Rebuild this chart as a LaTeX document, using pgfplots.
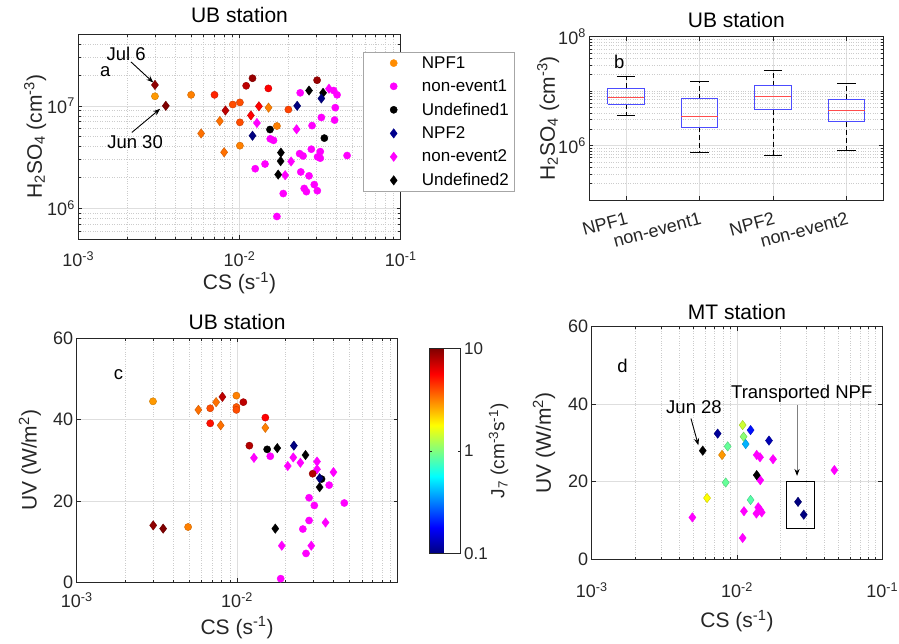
\documentclass[border=0pt]{standalone}
\usepackage{fontspec}
\setmainfont{Liberation Sans}
\usepackage{pgfplots}
\pgfplotsset{compat=1.18}
\usetikzlibrary{arrows.meta}

\definecolor{axc}{rgb}{0.15,0.15,0.15}
\definecolor{npfor}{rgb}{1,0.55,0}
\definecolor{navy}{rgb}{0,0,0.55}
\definecolor{mag}{rgb}{1,0,1}
\definecolor{boxblue}{rgb}{0.3,0.3,1}
\definecolor{medred}{rgb}{1,0.3,0.3}

\newcommand{\fTick}{\fontsize{18}{18}\selectfont}
\newcommand{\fLab}{\fontsize{21}{21}\selectfont}
\newcommand{\fLeg}{\fontsize{17}{17}\selectfont}
\newcommand{\fAnn}{\fontsize{18.5}{18.5}\selectfont}

\pgfplotsset{
  panelbase/.style={
    scale only axis,
    axis line style={axc, line width=0.6pt},
    tick style={axc, line width=0.5pt},
    major tick length=4pt, minor tick length=2.5pt,
    tick label style={font=\fTick, text=axc},
    /pgf/number format/assume math mode=true,
    xlabel style={font=\fLab, text=axc},
    ylabel style={font=\fLab, text=axc},
    title style={font=\fLab, text=black},
    major grid style={black!13, line width=0.5pt},
    minor grid style={black!20, dotted, line width=0.5pt},
    colormap/jet, point meta min=-1, point meta max=1,
    unbounded coords=jump,
  },
  csticks/.style={
    xmin=1e-3, xmax=1e-1,
    xtick={1e-3,1e-2,1e-1},
    xticklabels={10\textsuperscript{-3},10\textsuperscript{-2},10\textsuperscript{-1}},
    minor xtick={0.002,0.003,0.004,0.005,0.006,0.007,0.008,0.009,0.02,0.03,0.04,0.05,0.06,0.07,0.08,0.09},
    xmajorgrids, xminorgrids,
    xlabel={CS (s\textsuperscript{-1})},
  },
  mcirc/.style={only marks, mark=*, mark size=3.6pt},
  mdiam/.style={only marks, mark=diamond*, mark size=4.7pt},
  legimg/.style={legend image code/.code={
    \path (0pt,0pt) (53pt,0pt);
    \draw[##1] plot coordinates {(27pt,0pt)};}},
}

\begin{document}
\begin{tikzpicture}

% ---------- a: H2SO4 vs CS ----------
\begin{axis}[panelbase, xmode=log, ymode=log, csticks,
  at={(78.3pt,-239pt)}, anchor=south west, width=322.4pt, height=204.7pt,
  ymin=5e5, ymax=5e7,
  ytick={1e6,1e7}, yticklabels={10\textsuperscript{6},10\textsuperscript{7}},
  minor ytick={6e5,7e5,8e5,9e5,2e6,3e6,4e6,5e6,6e6,7e6,8e6,9e6,2e7,3e7,4e7,5e7},
  ymajorgrids, yminorgrids,
  ylabel={H\textsubscript{2}SO\textsubscript{4} (cm\textsuperscript{-3})},
  xlabel style={at={(axis description cs:0.5,-0.215)}, anchor=center},
  ylabel style={at={(axis description cs:-0.134,0.5)}, anchor=center},
  xticklabel style={yshift=-9pt},
  title={UB station},
  title style={at={(axis description cs:0.5,1)}, anchor=center, yshift=13pt},
  legend style={at={(rel axis cs:0.884,0.912)}, anchor=north west,
    draw=gray!70, fill=white, font=\fLeg, row sep=6pt},
  legend cell align=left,
]
\addlegendimage{mcirc, npfor, legimg}\addlegendentry{NPF1}
\addlegendimage{mcirc, mag, legimg}\addlegendentry{non-event1}
\addlegendimage{mcirc, black, legimg}\addlegendentry{Undefined1}
\addlegendimage{mdiam, navy, legimg}\addlegendentry{NPF2}
\addlegendimage{mdiam, mag, legimg}\addlegendentry{non-event2}
\addlegendimage{mdiam, black, legimg}\addlegendentry{Undefined2}

% non-event1
\addplot[mcirc, mag] table {
x y
0.0238 1.34e7
0.0384 1.41e7
0.0403 1.28e7
0.0393 9.6e6
0.0322 7.7e6
0.0389 7.26e6
0.0282 6.41e6
0.01552 4.76e6
0.01626 4.6e6
0.0279 3.77e6
0.0236 3.41e6
0.0248 3.24e6
0.0317 3.57e6
0.0305 3.17e6
0.0317 3.08e6
0.0465 3.27e6
0.0144 2.7e6
0.01252 2.43e6
0.0240 2.26e6
0.0270 2.07e6
0.0252 1.56e6
0.0260 1.45e6
0.0291 1.70e6
0.0304 1.48e6
0.01868 1.39e6
0.01707 8.3e5
};
% non-event2
\addplot[mdiam, mag] table {
x y
0.0359 1.47e7
0.01283 6.8e6
0.0226 5.9e6
0.0209 2.86e6
0.0192 2.1e6
};
% undefined1
\addplot[mcirc, black] table {
x y
0.01546 5.87e6
0.0336 4.84e6
};
% undefined2
\addplot[mdiam, black] table {
x y
0.0270 1.41e7
0.0330 1.34e7
0.01807 3.49e6
0.0180 2.88e6
0.01738 2.13e6
};
% NPF1, colour = log10 J7
\addplot[scatter, mcirc, scatter src=explicit] table[meta=j] {
x y j
0.00299 1.24e7 0.45
0.00501 1.28e7 0.5
0.0070 1.28e7 0.68
0.00908 1.03e7 0.6
0.01006 1.08e7 0.6
0.01006 6.9e6 0.6
0.01006 4.08e6 0.5
0.0110 1.57e7 0.88
0.01204 1.86e7 0.95
0.0151 1.48e7 0.75
0.0201 9.2e6 0.62
0.01707 6.35e6 0.5
0.0303 1.78e7 0.95
};
% NPF2, colour = log10 J7
\addplot[scatter, mdiam, scatter src=explicit] table[meta=j] {
x y j
0.00299 1.6e7 0.97
0.00349 1.0e7 1.0
0.00578 5.37e6 0.53
0.00755 7.1e6 0.53
0.00818 9.0e6 0.88
0.00803 3.52e6 0.53
0.0132 9.9e6 0.75
0.01177 8.06e6 0.75
0.01514 9.6e6 0.5
0.01204 5.1e6 -1
0.0228 1.0e7 -1
0.0322 1.18e7 -1
};
\node[font=\fAnn] at (axis cs:0.00147,2.14e7) {a};
\node[font=\fAnn] at (axis cs:0.00198,3.24e7) {Jul 6};
\draw[-{Stealth[length=7pt]}, line width=0.9pt] (axis cs:0.00212,2.69e7) -- (axis cs:0.00292,1.69e7);
\node[font=\fAnn] at (axis cs:0.00225,4.46e6) {Jun 30};
\draw[-{Stealth[length=7pt]}, line width=0.9pt] (axis cs:0.00215,5.5e6) -- (axis cs:0.00322,9.35e6);
\end{axis}

% ---------- b: box plots ----------
\begin{axis}[panelbase, ymode=log,
  at={(589.3pt,-200pt)}, anchor=south west, width=294pt, height=163.3pt,
  xmin=0.5, xmax=4.5, xtick={1,2,3,4},
  xticklabels={NPF1,non-event1,NPF2,non-event2},
  xticklabel style={rotate=15, anchor=north east, yshift=-8pt},
  ymin=1e5, ymax=1e8,
  ytick={1e6,1e8}, yticklabels={10\textsuperscript{6},10\textsuperscript{8}},
  minor ytick={2e5,3e5,4e5,5e5,6e5,7e5,8e5,9e5,2e6,3e6,4e6,5e6,6e6,7e6,8e6,9e6,1e7,2e7,3e7,4e7,5e7,6e7,7e7,8e7,9e7},
  xmajorgrids, ymajorgrids, yminorgrids,
  ylabel={H\textsubscript{2}SO\textsubscript{4} (cm\textsuperscript{-3})},
  ylabel style={at={(axis description cs:-0.14,0.5)}, anchor=center},
  title={UB station},
  title style={at={(axis description cs:0.5,1)}, anchor=center, yshift=11pt},
]
% whiskers
\addplot[black, line width=0.6pt, dash pattern=on 5pt off 3pt] coordinates {
(1,1.13e7) (1,1.88e7) (nan,nan) (1,5.8e6) (1,3.6e6) (nan,nan)
(2,7.3e6) (2,1.52e7) (nan,nan) (2,2.17e6) (2,7.45e5) (nan,nan)
(3,1.26e7) (3,2.42e7) (nan,nan) (3,4.58e6) (3,6.66e5) (nan,nan)
(4,7.1e6) (4,1.37e7) (nan,nan) (4,2.72e6) (4,8.24e5)
};
% caps
\addplot[black, line width=0.6pt] coordinates {
(0.875,1.88e7) (1.125,1.88e7) (nan,nan) (0.875,3.6e6) (1.125,3.6e6) (nan,nan)
(1.875,1.52e7) (2.125,1.52e7) (nan,nan) (1.875,7.45e5) (2.125,7.45e5) (nan,nan)
(2.875,2.42e7) (3.125,2.42e7) (nan,nan) (2.875,6.66e5) (3.125,6.66e5) (nan,nan)
(3.875,1.37e7) (4.125,1.37e7) (nan,nan) (3.875,8.24e5) (4.125,8.24e5)
};
% boxes
\addplot[boxblue, line width=1pt] coordinates {
(0.75,5.8e6) (1.25,5.8e6) (1.25,1.13e7) (0.75,1.13e7) (0.75,5.8e6) (nan,nan)
(1.75,2.17e6) (2.25,2.17e6) (2.25,7.3e6) (1.75,7.3e6) (1.75,2.17e6) (nan,nan)
(2.75,4.58e6) (3.25,4.58e6) (3.25,1.26e7) (2.75,1.26e7) (2.75,4.58e6) (nan,nan)
(3.75,2.72e6) (4.25,2.72e6) (4.25,7.1e6) (3.75,7.1e6) (3.75,2.72e6)
};
% medians
\addplot[medred, line width=0.8pt] coordinates {
(0.75,7.8e6) (1.25,7.8e6) (nan,nan)
(1.75,3.37e6) (2.25,3.37e6) (nan,nan)
(2.75,8.05e6) (3.25,8.05e6) (nan,nan)
(3.75,4.52e6) (4.25,4.52e6)
};
\node[font=\fAnn] at (axis cs:0.908,3.47e7) {b};
\end{axis}

% ---------- c: UV vs CS, UB ----------
\begin{axis}[panelbase, xmode=log, csticks,
  at={(76.7pt,-582.3pt)}, anchor=south west, width=320.8pt, height=244pt,
  ymin=0, ymax=60, ytick={0,20,40,60}, ymajorgrids,
  xticklabels={10\textsuperscript{-3},10\textsuperscript{-2},{}},
  xticklabel style={yshift=-7pt},
  ylabel={UV (W/m\textsuperscript{2})},
  xlabel style={at={(axis description cs:0.5,-0.185)}, anchor=center},
  ylabel style={at={(axis description cs:-0.146,0.5)}, anchor=center},
  title={UB station},
  title style={at={(axis description cs:0.5,1)}, anchor=center, yshift=10pt},
  colorbar,
  colorbar style={
    at={(parent axis.north east)}, anchor=north west,
    xshift=23pt, yshift=-10pt,
    scale only axis, width=31.6pt, height=205pt,
    ytick={-1,0,1}, yticklabels={0.1,1,10},
    yticklabel style={font=\fontsize{17}{17}\selectfont, text=axc},
    ylabel={J\textsubscript{7} (cm\textsuperscript{-3}s\textsuperscript{-1})},
    ylabel style={font=\fontsize{19}{19}\selectfont, text=axc,
      at={(axis description cs:2.2,0.5)}, anchor=center},
    axis line style={axc, line width=0.6pt},
    major tick length=3pt,
  },
]
\addplot[mcirc, mag] table {
x y
0.0161 31.0
0.0375 23.9
0.0466 19.5
0.0281 20.8
0.0303 18.9
0.0281 15.2
0.0257 13.1
0.0269 7.1
0.0187 0.9
};
\addplot[mdiam, mag] table {
x y
0.01274 30.6
0.0224 30.7
0.0207 28.6
0.0248 29.4
0.0315 29.7
0.0315 27.8
0.0399 27.1
0.0356 14.7
0.0190 9.0
0.0290 9.0
};
\addplot[mcirc, black] table {
x y
0.0154 32.7
0.0336 25.4
};
\addplot[mdiam, black] table {
x y
0.0178 33.0
0.0267 31.3
0.0327 23.4
0.0173 13.2
};
\addplot[scatter, mcirc, scatter src=explicit] table[meta=j] {
x y j
0.00299 44.5 0.45
0.00495 13.6 0.5
0.00680 42.8 0.6
0.00680 39.1 0.72
0.0099 45.9 0.5
0.0099 43.1 0.58
0.0099 42.4 0.6
0.01094 44.3 0.88
0.0150 40.5 0.75
0.01193 33.6 0.9
0.0296 26.7 0.9
};
\addplot[scatter, mdiam, scatter src=explicit] table[meta=j] {
x y j
0.0030 14.0 0.97
0.00346 13.2 1.0
0.00574 42.4 0.53
0.0074 44.3 0.53
0.0081 45.6 0.88
0.0079 38.6 0.53
0.0150 38.0 0.5
0.0226 33.6 -1
0.0327 25.6 -1
};
\node[font=\fAnn] at (axis cs:0.00182,51.0) {c};
\end{axis}

% ---------- d: UV vs CS, MT ----------
\begin{axis}[panelbase, xmode=log, csticks,
  at={(591.7pt,-559.3pt)}, anchor=south west, width=290.6pt, height=232.8pt,
  ymin=0, ymax=60, ytick={0,20,40,60}, ymajorgrids,
  xticklabel style={yshift=-20pt},
  ylabel={UV (W/m\textsuperscript{2})},
  xlabel style={at={(axis description cs:0.5,-0.265)}, anchor=center},
  ylabel style={at={(axis description cs:-0.164,0.5)}, anchor=center},
  title={MT station},
  title style={at={(axis description cs:0.5,1)}, anchor=center, yshift=9pt},
]
\addplot[mdiam, mag] table {
x y
0.00493 10.8
0.01367 26.9
0.0144 26.3
0.0177 25.8
0.01445 20.4
0.0468 23.0
0.01117 12.4
0.0136 11.8
0.0140 13.4
0.0148 12.1
0.0144 12.8
0.01094 5.5
};
\addplot[mdiam, black] table {
x y
0.00581 28.0
0.01367 21.7
};
\addplot[scatter, mdiam, scatter src=explicit] table[meta=j] {
x y j
0.00736 32.4 -0.95
0.00789 26.9 0.45
0.00863 29.1 -0.05
0.00836 19.8 -0.05
0.00622 15.8 0.25
0.01094 34.6 0.15
0.0111 31.6 0.02
0.01148 29.7 -0.4
0.0124 33.3 -0.72
0.0166 30.6 -0.9
0.0124 15.3 -0.08
0.0263 14.8 -1
0.0288 11.5 -1
};
\node[font=\fAnn] at (axis cs:0.00163,49.9) {d};
\node[font=\fAnn] at (axis cs:0.00506,39.1) {Jun 28};
\draw[-{Stealth[length=7pt]}, line width=0.9pt] (axis cs:0.00482,36.3) -- (axis cs:0.00542,29.4);
\node[font=\fAnn] at (axis cs:0.0279,42.7) {Transported NPF};
\draw[gray, line width=0.9pt, -{Stealth[length=7pt, black]}] (axis cs:0.0259,39.7) -- (axis cs:0.0259,21.5);
\draw[black, line width=1pt] (axis cs:0.0218,7.9) rectangle (axis cs:0.034,20.1);
\end{axis}

\pgfresetboundingbox
\path[use as bounding box] (0pt,0pt) rectangle (899pt,-643pt);
\end{tikzpicture}
\end{document}
